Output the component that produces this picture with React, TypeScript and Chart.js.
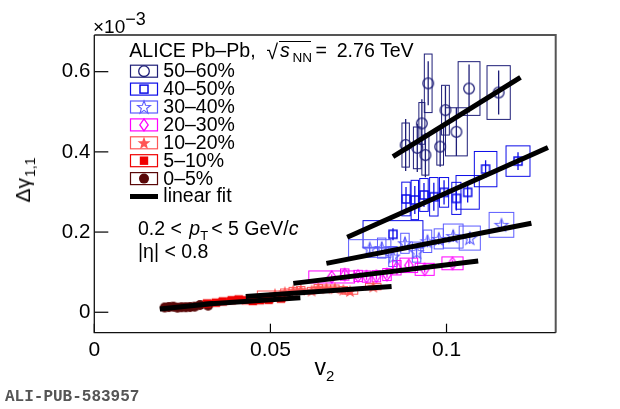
import { useEffect, useRef } from "react";
import { Chart, registerables } from "chart.js";

Chart.register(...registerables);

// axis ranges, Δγ is given in units of 10^-3
const xMin = 0;
const xMax = 0.131;
const yMin = -0.051;
const yMax = 0.6915;
const xTickValues = [0, 0.05, 0.1];
const xTickLabels = ["0", "0.05", "0.1"];
const yTickValues = [0, 0.2, 0.4, 0.6];
const yTickLabels = ["0", "0.2", "0.4", "0.6"];

const centralities = ["50–60%", "40–50%", "30–40%", "20–30%", "10–20%", "5–10%", "0–5%"];

// 50-60%
const v2_50 = [0.0884, 0.0917, 0.093, 0.094, 0.0948, 0.0982, 0.0997, 0.1028, 0.1064, 0.1148];
const dg_50 = [0.417, 0.41, 0.471, 0.392, 0.571, 0.413, 0.504, 0.45, 0.558, 0.548];
const stat_50 = [0.065, 0.06, 0.06, 0.055, 0.055, 0.05, 0.06, 0.06, 0.06, 0.055];
const sysX_50 = [0.00105, 0.0011, 0.00085, 0.001, 0.0011, 0.00095, 0.0011, 0.0031, 0.0031, 0.0033];
const sysY_50 = [0.055, 0.052, 0.052, 0.05, 0.073, 0.046, 0.062, 0.06, 0.067, 0.067];
const fitX_50 = [0.0848, 0.121];
const fitY_50 = [0.388, 0.586];

// 40-50%
const v2_40 = [0.0848, 0.0885, 0.091, 0.0936, 0.0964, 0.0993, 0.1028, 0.106, 0.1111, 0.1203];
const dg_40 = [0.1945, 0.2825, 0.28, 0.2925, 0.288, 0.299, 0.284, 0.299, 0.357, 0.377];
const stat_40 = [0.015, 0.03, 0.035, 0.03, 0.035, 0.03, 0.03, 0.025, 0.022, 0.022];
const sysX_40 = [0.0085, 0.0012, 0.00105, 0.0012, 0.0012, 0.0013, 0.0013, 0.0033, 0.0032, 0.0034];
const sysY_40 = [0.034, 0.042, 0.049, 0.041, 0.048, 0.037, 0.04, 0.042, 0.044, 0.038];
const fitX_40 = [0.0718, 0.1288];
const fitY_40 = [0.187, 0.411];

// 30-40%
const v2_30 = [0.0782, 0.0816, 0.0848, 0.0882, 0.0915, 0.0946, 0.0978, 0.1019, 0.1066, 0.1156];
const dg_30 = [0.159, 0.16, 0.139, 0.172, 0.15, 0.177, 0.183, 0.19, 0.185, 0.218];
const stat_30 = [0.012, 0.015, 0.015, 0.015, 0.015, 0.015, 0.015, 0.015, 0.015, 0.012];
const sysX_30 = [0.006, 0.0012, 0.0012, 0.0012, 0.0012, 0.0012, 0.0013, 0.0028, 0.003, 0.0035];
const sysY_30 = [0.022, 0.025, 0.025, 0.025, 0.025, 0.028, 0.025, 0.03, 0.03, 0.031];
const fitX_30 = [0.0659, 0.1241];
const fitY_30 = [0.122, 0.222];

// 20-30%
const v2_20 = [0.0674, 0.0711, 0.0749, 0.0773, 0.0801, 0.0831, 0.0859, 0.0893, 0.0938, 0.1017];
const dg_20 = [0.088, 0.094, 0.0905, 0.089, 0.0898, 0.094, 0.111, 0.117, 0.107, 0.122];
const stat_20 = [0.006, 0.008, 0.008, 0.008, 0.008, 0.008, 0.01, 0.01, 0.008, 0.008];
const sysX_20 = [0.0065, 0.0012, 0.0012, 0.0012, 0.0012, 0.0012, 0.0012, 0.0025, 0.0027, 0.003];
const sysY_20 = [0.015, 0.014, 0.014, 0.014, 0.014, 0.015, 0.018, 0.018, 0.015, 0.016];
const fitX_20 = [0.0565, 0.109];
const fitY_20 = [0.072, 0.128];

// 10-20%
const v2_10 = [0.0513, 0.0541, 0.0565, 0.0586, 0.0617, 0.0636, 0.0659, 0.0683, 0.0707, 0.0726, 0.0792];
const dg_10 = [0.045, 0.05, 0.054, 0.056, 0.054, 0.061, 0.06, 0.06, 0.056, 0.053, 0.064];
const stat_10 = [0.005, 0.005, 0.005, 0.005, 0.005, 0.005, 0.005, 0.005, 0.005, 0.005, 0.005];
const sysX_10 = [0.005, 0.0012, 0.0012, 0.0012, 0.0012, 0.0012, 0.0012, 0.0012, 0.0012, 0.0022, 0.0022];
const sysY_10 = [0.008, 0.008, 0.008, 0.008, 0.008, 0.008, 0.008, 0.008, 0.008, 0.008, 0.008];
const fitX_10 = [0.043, 0.0844];
const fitY_10 = [0.039, 0.064];

// 5-10%
const v2_5 = [0.032, 0.0345, 0.0365, 0.039, 0.041, 0.043, 0.045, 0.047, 0.0495, 0.053];
const dg_5 = [0.022, 0.024, 0.027, 0.03, 0.032, 0.03, 0.028, 0.03, 0.031, 0.034];
const stat_5 = [0.004, 0.004, 0.004, 0.004, 0.004, 0.004, 0.004, 0.004, 0.004, 0.004];
const sysX_5 = [0.0012, 0.0012, 0.0012, 0.0012, 0.0012, 0.0012, 0.0012, 0.0012, 0.0012, 0.0012];
const sysY_5 = [0.006, 0.006, 0.006, 0.006, 0.006, 0.006, 0.006, 0.006, 0.006, 0.006];
const fitX_5 = [0.031, 0.0585];
const fitY_5 = [0.02, 0.036];

// 0-5%
const v2_0 = [0.02, 0.0212, 0.0224, 0.0236, 0.0248, 0.026, 0.0272, 0.0285, 0.03, 0.0323];
const dg_0 = [0.012, 0.013, 0.014, 0.0115, 0.0125, 0.0125, 0.013, 0.014, 0.018, 0.0165];
const stat_0 = [0.003, 0.003, 0.003, 0.003, 0.003, 0.003, 0.003, 0.003, 0.003, 0.003];
const sysX_0 = [0.0008, 0.0008, 0.0008, 0.0008, 0.0008, 0.0008, 0.0008, 0.0008, 0.0008, 0.0008];
const sysY_0 = [0.004, 0.004, 0.004, 0.004, 0.004, 0.004, 0.004, 0.004, 0.004, 0.004];
const fitX_0 = [0.0186, 0.0338];
const fitY_0 = [0.008, 0.022];

type Marker = "openCircle" | "openSquare" | "openStar" | "openDiamond" | "fullStar" | "fullSquare" | "fullCircle";

const series = [
  { label: centralities[0], color: "#1e1e78", marker: "openCircle", v2: v2_50, dg: dg_50, stat: stat_50, sysX: sysX_50, sysY: sysY_50, fitX: fitX_50, fitY: fitY_50 },
  { label: centralities[1], color: "#0c0ce8", marker: "openSquare", v2: v2_40, dg: dg_40, stat: stat_40, sysX: sysX_40, sysY: sysY_40, fitX: fitX_40, fitY: fitY_40 },
  { label: centralities[2], color: "#5c5cff", marker: "openStar", v2: v2_30, dg: dg_30, stat: stat_30, sysX: sysX_30, sysY: sysY_30, fitX: fitX_30, fitY: fitY_30 },
  { label: centralities[3], color: "#ff00ff", marker: "openDiamond", v2: v2_20, dg: dg_20, stat: stat_20, sysX: sysX_20, sysY: sysY_20, fitX: fitX_20, fitY: fitY_20 },
  { label: centralities[4], color: "#ff5555", marker: "fullStar", v2: v2_10, dg: dg_10, stat: stat_10, sysX: sysX_10, sysY: sysY_10, fitX: fitX_10, fitY: fitY_10 },
  { label: centralities[5], color: "#f00000", marker: "fullSquare", v2: v2_5, dg: dg_5, stat: stat_5, sysX: sysX_5, sysY: sysY_5, fitX: fitX_5, fitY: fitY_5 },
  { label: centralities[6], color: "#5a0808", marker: "fullCircle", v2: v2_0, dg: dg_0, stat: stat_0, sysX: sysX_0, sysY: sysY_0, fitX: fitX_0, fitY: fitY_0 },
] as { label: string; color: string; marker: Marker; v2: number[]; dg: number[]; stat: number[]; sysX: number[]; sysY: number[]; fitX: number[]; fitY: number[] }[];

const sans = '"Liberation Sans", Arial, Helvetica, sans-serif';

function starPath(ctx: CanvasRenderingContext2D, cx: number, cy: number, ro: number, ri: number) {
  ctx.beginPath();
  for (let k = 0; k < 10; k++) {
    const r = k % 2 === 0 ? ro : ri;
    const a = -Math.PI / 2 + (k * Math.PI) / 5;
    const px = cx + r * Math.cos(a);
    const py = cy + r * Math.sin(a);
    if (k === 0) ctx.moveTo(px, py);
    else ctx.lineTo(px, py);
  }
  ctx.closePath();
}

function drawMarker(ctx: CanvasRenderingContext2D, kind: Marker, cx: number, cy: number, color: string) {
  ctx.save();
  ctx.strokeStyle = color;
  ctx.fillStyle = color;
  ctx.lineWidth = 1.3;
  switch (kind) {
    case "openCircle":
      ctx.beginPath();
      ctx.arc(cx, cy, 5.3, 0, Math.PI * 2);
      ctx.stroke();
      break;
    case "openSquare":
      ctx.lineWidth = 1.5;
      ctx.strokeRect(cx - 4, cy - 4, 8, 8);
      break;
    case "openStar":
      ctx.lineWidth = 1.1;
      starPath(ctx, cx, cy + 0.6, 6.8, 2.8);
      ctx.stroke();
      break;
    case "openDiamond":
      ctx.beginPath();
      ctx.moveTo(cx, cy - 6);
      ctx.lineTo(cx + 4.2, cy);
      ctx.lineTo(cx, cy + 6);
      ctx.lineTo(cx - 4.2, cy);
      ctx.closePath();
      ctx.stroke();
      break;
    case "fullStar":
      starPath(ctx, cx, cy + 0.6, 6.8, 2.8);
      ctx.fill();
      break;
    case "fullSquare":
      ctx.fillRect(cx - 4.2, cy - 4.2, 8.4, 8.4);
      break;
    case "fullCircle":
      ctx.beginPath();
      ctx.arc(cx, cy, 5, 0, Math.PI * 2);
      ctx.fill();
      break;
  }
  ctx.restore();
}

function markerImage(kind: Marker, color: string) {
  const c = document.createElement("canvas");
  c.width = 20;
  c.height = 20;
  drawMarker(c.getContext("2d")!, kind, 10, 10, color);
  return c;
}

// systematic boxes and statistical bars, under the markers
const uncertaintyPlugin = {
  id: "uncertainties",
  beforeDatasetsDraw(chart: Chart) {
    const { ctx, chartArea } = chart;
    const x = chart.scales.x;
    const y = chart.scales.y;
    ctx.save();
    ctx.beginPath();
    ctx.rect(chartArea.left, chartArea.top, chartArea.width, chartArea.height);
    ctx.clip();
    series.forEach((s) => {
      ctx.strokeStyle = s.color;
      ctx.lineWidth = 1;
      s.v2.forEach((v, j) => {
        const x0 = x.getPixelForValue(v - s.sysX[j]);
        const x1 = x.getPixelForValue(v + s.sysX[j]);
        const y0 = y.getPixelForValue(s.dg[j] - s.sysY[j]);
        const y1 = y.getPixelForValue(s.dg[j] + s.sysY[j]);
        ctx.strokeRect(x0, y1, x1 - x0, y0 - y1);
      });
      ctx.lineWidth = 1.3;
      s.v2.forEach((v, j) => {
        const px = x.getPixelForValue(v);
        ctx.beginPath();
        ctx.moveTo(px, y.getPixelForValue(s.dg[j] - s.stat[j]));
        ctx.lineTo(px, y.getPixelForValue(s.dg[j] + s.stat[j]));
        ctx.stroke();
      });
    });
    ctx.restore();
  },
};

// ROOT style frame with inward ticks
const framePlugin = {
  id: "frame",
  afterDatasetsDraw(chart: Chart) {
    const { ctx, chartArea } = chart;
    const { left, right, top, bottom } = chartArea;
    const x = chart.scales.x;
    const y = chart.scales.y;
    ctx.save();
    ctx.strokeStyle = "#000";
    ctx.lineWidth = 1.2;
    yTickValues.forEach((v) => {
      const py = y.getPixelForValue(v);
      ctx.beginPath();
      ctx.moveTo(left, py);
      ctx.lineTo(left + 14, py);
      ctx.stroke();
    });
    xTickValues.forEach((v) => {
      const px = x.getPixelForValue(v);
      ctx.beginPath();
      ctx.moveTo(px, bottom);
      ctx.lineTo(px, bottom - 9);
      ctx.stroke();
    });
    ctx.strokeStyle = "#555";
    ctx.lineWidth = 2;
    ctx.beginPath();
    ctx.moveTo(left, top);
    ctx.lineTo(right, top);
    ctx.lineTo(right, bottom);
    ctx.stroke();
    ctx.strokeStyle = "#111";
    ctx.lineWidth = 1.3;
    ctx.beginPath();
    ctx.moveTo(left, top);
    ctx.lineTo(left, bottom);
    ctx.lineTo(right, bottom);
    ctx.stroke();
    ctx.restore();
  },
};

const legendTop = 71.2;
const legendStep = 17.9;

const legendPlugin = {
  id: "rootLegend",
  afterDraw(chart: Chart) {
    const { ctx } = chart;
    ctx.save();
    series.forEach((s, i) => {
      const cy = legendTop + i * legendStep;
      ctx.strokeStyle = s.color;
      ctx.lineWidth = 1.2;
      ctx.strokeRect(130.5, cy - 6, 27, 12);
      drawMarker(ctx, s.marker, 144, cy, s.color);
    });
    const fy = legendTop + series.length * legendStep;
    ctx.strokeStyle = "#000";
    ctx.lineWidth = 5;
    ctx.beginPath();
    ctx.moveTo(130, fy);
    ctx.lineTo(158, fy);
    ctx.stroke();
    ctx.restore();
  },
};

function Txt({ x, base, size, children, style }: { x: number; base: number; size: number; children: React.ReactNode; style?: React.CSSProperties }) {
  return (
    <div
      style={{
        position: "absolute",
        left: x,
        top: base - 0.8465 * size,
        fontSize: size,
        lineHeight: `${size}px`,
        fontFamily: sans,
        whiteSpace: "nowrap",
        color: "#000",
        ...style,
      }}
    >
      {children}
    </div>
  );
}

export default function App() {
  const canvasRef = useRef<HTMLCanvasElement>(null);

  useEffect(() => {
    document.body.style.margin = "0";
    if (!canvasRef.current) return;

    const chart = new Chart(canvasRef.current, {
      type: "scatter",
      data: {
        datasets: [
          ...series.map((s) => ({
            label: s.label,
            data: s.v2.map((v, j) => ({ x: v, y: s.dg[j] })),
            pointStyle: markerImage(s.marker, s.color),
            pointRadius: 8,
            showLine: false,
            order: 1,
          })),
          ...series.map((s) => ({
            label: s.label + " fit",
            data: s.fitX.map((v, j) => ({ x: v, y: s.fitY[j] })),
            showLine: true,
            borderColor: "#000",
            borderWidth: 5,
            borderCapStyle: "butt" as const,
            pointRadius: 0,
            order: 0,
          })),
        ],
      },
      options: {
        responsive: false,
        animation: false,
        layout: { padding: { left: 0, top: 35, right: 64.3, bottom: 0 } },
        plugins: {
          legend: { display: false },
          tooltip: { enabled: false },
        },
        scales: {
          x: {
            type: "linear",
            min: xMin,
            max: xMax,
            grid: { display: false, drawTicks: false },
            border: { display: false },
            afterBuildTicks: (s) => {
              s.ticks = xTickValues.map((v) => ({ value: v }));
            },
            afterFit: (s) => {
              s.height = 76.3;
            },
            ticks: {
              autoSkip: false,
              maxRotation: 0,
              padding: 5,
              color: "#000",
              font: { family: sans, size: 21 },
              callback: (_v, i) => xTickLabels[i],
            },
          },
          y: {
            type: "linear",
            min: yMin,
            max: yMax,
            grid: { display: false, drawTicks: false },
            border: { display: false },
            afterBuildTicks: (s) => {
              s.ticks = yTickValues.map((v) => ({ value: v }));
            },
            afterFit: (s) => {
              s.width = 94.3;
            },
            ticks: {
              autoSkip: false,
              padding: 4,
              color: "#000",
              font: { family: sans, size: 20.5 },
              callback: (_v, i) => yTickLabels[i],
            },
          },
        },
      },
      plugins: [uncertaintyPlugin, framePlugin, legendPlugin],
    });

    return () => {
      chart.destroy();
    };
  }, []);

  return (
    <div style={{ position: "relative", width: 620, height: 409, background: "#fff", overflow: "hidden" }}>
      <canvas ref={canvasRef} width={620} height={409} style={{ position: "absolute", left: 0, top: 0 }} />

      <Txt x={93} base={33.3} size={19}>
        ×10<span style={{ position: "relative", top: -8, fontSize: 18 }}>−3</span>
      </Txt>

      <Txt x={129.3} base={57.3} size={19.6}>ALICE Pb–Pb,</Txt>
      <Txt x={266.5} base={58.5} size={21}>√</Txt>
      <div style={{ position: "absolute", left: 278.5, top: 40.5, width: 32.5, height: 1.3, background: "#000" }} />
      <Txt x={280} base={57.3} size={19.6} style={{ fontStyle: "italic" }}>s</Txt>
      <Txt x={292.5} base={62.5} size={13.5}>NN</Txt>
      <Txt x={315.5} base={57.3} size={19.6}>=</Txt>
      <Txt x={336.7} base={57.3} size={19.6}>2.76 TeV</Txt>

      {[...series.map((s) => s.label), "linear fit"].map((t, i) => (
        <Txt key={t} x={163.3} base={legendTop + i * legendStep + 6.5} size={19.5}>
          {t}
        </Txt>
      ))}

      <Txt x={138} base={235.5} size={19.5}>
        0.2 &lt; <span style={{ fontStyle: "italic", marginLeft: 2 }}>p</span>
        <span style={{ position: "relative", top: 5, fontSize: 13, marginRight: 3 }}>T</span>
        &lt; 5 GeV/<span style={{ fontStyle: "italic" }}>c</span>
      </Txt>
      <Txt x={138} base={259} size={19.5}>|η| &lt; 0.8</Txt>

      <div
        style={{
          position: "absolute",
          left: 23.7,
          top: 180,
          transform: "translate(-50%, -50%) rotate(-90deg)",
          fontFamily: sans,
          fontSize: 21,
          lineHeight: "21px",
          whiteSpace: "nowrap",
        }}
      >
        Δγ<span style={{ position: "relative", top: 5, fontSize: 14, marginLeft: 1 }}>1,1</span>
      </div>

      <Txt x={314.5} base={375} size={23}>
        v<span style={{ position: "relative", top: 6.5, fontSize: 15 }}>2</span>
      </Txt>

      <Txt x={5} base={402.5} size={16} style={{ fontFamily: '"Liberation Mono", "DejaVu Sans Mono", monospace', fontWeight: "bold", color: "#555" }}>
        ALI-PUB-583957
      </Txt>
    </div>
  );
}
